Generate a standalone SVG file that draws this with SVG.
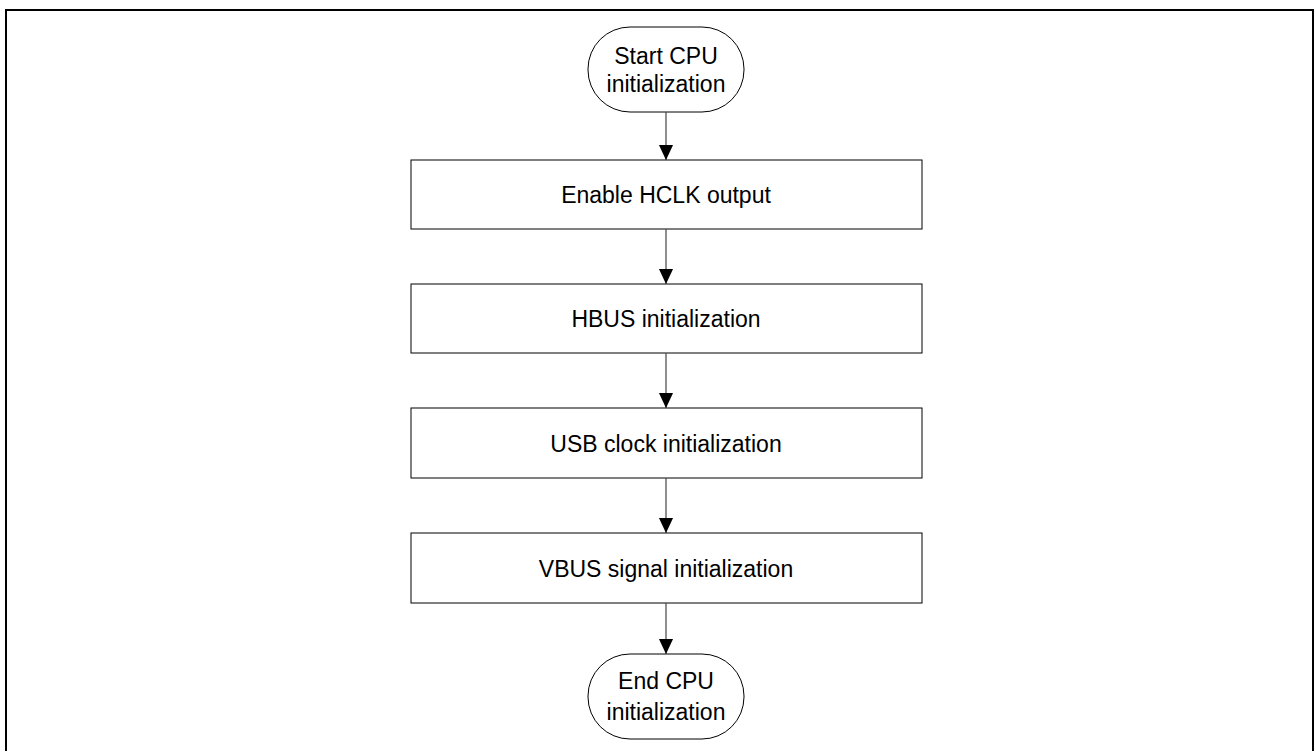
<svg xmlns="http://www.w3.org/2000/svg" width="1314" height="751" viewBox="0 0 1314 751">
<style>
.frame{fill:none;stroke:#000;stroke-width:2}
.node{fill:#fff;stroke:#000;stroke-width:1}
.lbl{font-family:"Liberation Sans",Arial,sans-serif;font-size:23px;fill:#000;text-anchor:middle}
.conn{stroke:#444;stroke-width:1.2;fill:none;marker-end:url(#arr)}
</style>
<defs>
<marker id="arr" markerWidth="15" markerHeight="16" refX="16" refY="7.5" orient="auto" markerUnits="userSpaceOnUse" viewBox="0 0 16 15">
<path d="M0,0 L16,7.5 L0,15 Z" fill="#000"/>
</marker>
</defs>
<rect width="1314" height="751" fill="#fff"/>
<path class="frame" d="M6,751 V10 H1313 V751"/>
<g id="start"><rect class="node" x="588" y="27" width="156" height="85" rx="42" ry="42"/><text class="lbl" x="666" y="64">Start CPU</text><text class="lbl" x="666" y="92">initialization</text></g>
<g id="hclk"><rect class="node" x="411" y="160" width="511" height="69"/><text class="lbl" x="666" y="203">Enable HCLK output</text></g>
<g id="hbus"><rect class="node" x="411" y="284" width="511" height="69"/><text class="lbl" x="666" y="327">HBUS initialization</text></g>
<g id="usbclk"><rect class="node" x="411" y="408" width="511" height="70"/><text class="lbl" x="666" y="452">USB clock initialization</text></g>
<g id="vbus"><rect class="node" x="411" y="533" width="511" height="70"/><text class="lbl" x="666" y="577">VBUS signal initialization</text></g>
<g id="end"><rect class="node" x="588" y="654" width="156" height="85" rx="42" ry="42"/><text class="lbl" x="666" y="689">End CPU</text><text class="lbl" x="666" y="720">initialization</text></g>
<g id="connectors">
<line class="conn" x1="666" y1="112" x2="666" y2="160"/>
<line class="conn" x1="666" y1="229" x2="666" y2="284"/>
<line class="conn" x1="666" y1="353" x2="666" y2="408"/>
<line class="conn" x1="666" y1="478" x2="666" y2="533"/>
<line class="conn" x1="666" y1="603" x2="666" y2="654"/>
</g>
</svg>
